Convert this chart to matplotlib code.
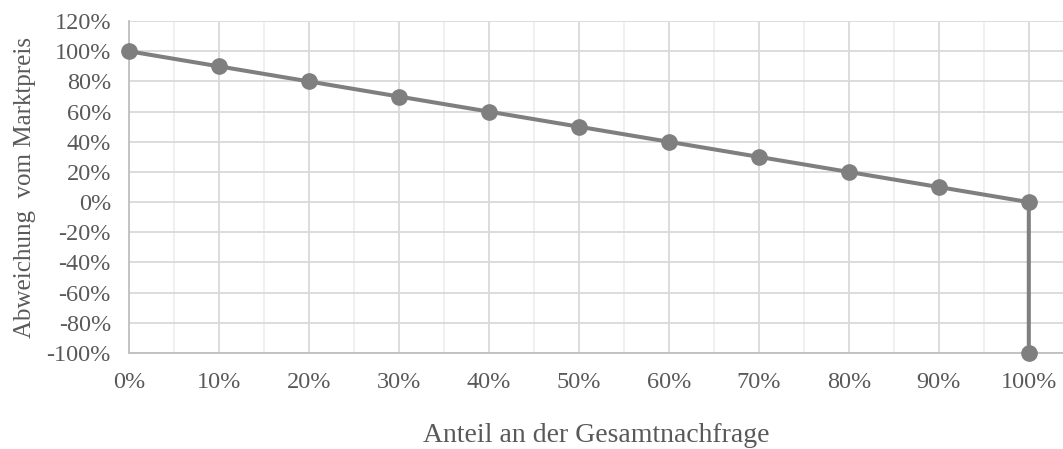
import matplotlib.pyplot as plt
from matplotlib.ticker import MultipleLocator, FuncFormatter

# data (percent)
anteil = [0, 10, 20, 30, 40, 50, 60, 70, 80, 90, 100, 100]
abweichung = [100, 90, 80, 70, 60, 50, 40, 30, 20, 10, 0, -100]

plt.rcParams['font.family'] = ['Liberation Serif', 'DejaVu Serif']
text_col = '#595959'

fig = plt.figure(figsize=(10.63, 4.49), dpi=100)
ax = fig.add_axes([0.1214, 0.2138, 0.8786, 0.7392])

ax.plot(anteil, abweichung, color='#7f7f7f', lw=2.9, marker='o', ms=11,
        zorder=3, clip_on=False)

ax.set_xlim(0, 103.8)
ax.set_ylim(-100, 120)
ax.xaxis.set_major_locator(MultipleLocator(10))
ax.xaxis.set_minor_locator(MultipleLocator(5))
ax.yaxis.set_major_locator(MultipleLocator(20))
pct = FuncFormatter(lambda v, p: f"{v:.0f}%")
ax.xaxis.set_major_formatter(pct)
ax.yaxis.set_major_formatter(pct)

ax.grid(which='major', color='#d9d9d9', lw=1.3)
ax.grid(which='minor', axis='x', color='#efefef', lw=1.3)
ax.set_axisbelow(True)

for s in ['top', 'right']:
    ax.spines[s].set_visible(False)
ax.spines['left'].set_color('#bfbfbf')
ax.spines['bottom'].set_color('#bfbfbf')
ax.spines['left'].set_linewidth(1.3)
ax.spines['bottom'].set_linewidth(1.3)

ax.tick_params(which='both', length=0, labelsize=17.5, colors=text_col)
ax.tick_params(axis='y', pad=13)
ax.tick_params(axis='x', pad=14)

ax.set_xlabel('Anteil an der Gesamtnachfrage', fontsize=20, color=text_col, labelpad=21)
ax.set_ylabel('Abweichung  vom Marktpreis', fontsize=18, color=text_col, labelpad=8)

fig.savefig('out.png', dpi=100)
